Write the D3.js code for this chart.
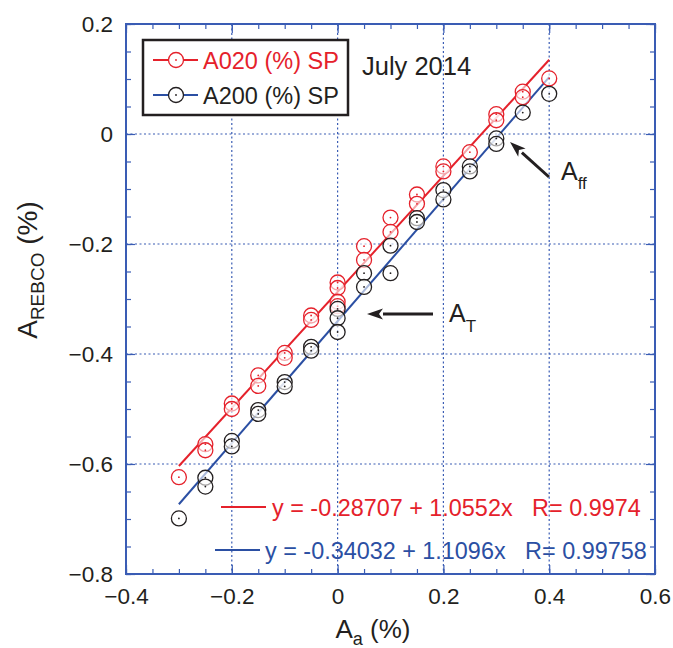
<!DOCTYPE html>
<html>
<head>
<meta charset="utf-8">
<script src="https://cdn.jsdelivr.net/npm/d3@7"></script>
<style>
body{margin:0;background:#fff;}
svg text{font-family:Arial,"Liberation Sans",sans-serif;white-space:pre;}
</style>
</head>
<body>
<svg width="673" height="648"></svg>
<script>
// 数据
var redX = [-0.3,-0.25,-0.25,-0.2,-0.2,-0.15,-0.15,-0.1,-0.1,-0.05,-0.05,0,0,0,0,0.05,0.05,0.1,0.1,0.15,0.15,0.2,0.2,0.25,0.3,0.3,0.35,0.35,0.4];
var redY = [-0.624,-0.564,-0.575,-0.490,-0.500,-0.439,-0.458,-0.398,-0.407,-0.330,-0.338,-0.270,-0.280,-0.305,-0.313,-0.204,-0.229,-0.152,-0.178,-0.110,-0.127,-0.059,-0.068,-0.033,0.036,0.025,0.077,0.067,0.101];
var blackX = [-0.3,-0.25,-0.25,-0.2,-0.2,-0.15,-0.15,-0.1,-0.1,-0.05,-0.05,0,0,0,0.05,0.05,0.1,0.1,0.15,0.15,0.2,0.2,0.25,0.25,0.3,0.3,0.35,0.4];
var blackY = [-0.699,-0.625,-0.641,-0.558,-0.568,-0.502,-0.509,-0.451,-0.459,-0.387,-0.394,-0.318,-0.335,-0.360,-0.253,-0.278,-0.203,-0.253,-0.153,-0.160,-0.102,-0.119,-0.059,-0.068,-0.008,-0.018,0.039,0.073];
var fitRed = [-0.28707,1.0552];   // 截距, 斜率
var fitBlue = [-0.34032,1.1096];
var fitRange = [-0.3,0.4];
var xTicks = [-0.4,-0.2,0,0.2,0.4,0.6];
var yTicks = [-0.8,-0.6,-0.4,-0.2,0,0.2];
var legendNames = ["A020 (%) SP","A200 (%) SP"];
var fitTexts = ["y = -0.28707 + 1.0552x   R= 0.9974","y = -0.34032 + 1.1096x   R= 0.99758"];

var RED = "#e5212b", BLUE = "#2b4fa3", FRAME = "#3a5cb4", BLK = "#231f20";

var svg = d3.select("svg");
var x = d3.scaleLinear().domain([-0.4,0.6]).range([126,655]);
var y = d3.scaleLinear().domain([-0.8,0.2]).range([574,24]);

var minorX = d3.range(-0.4,0.6001,0.05).map(function(d){return +d.toFixed(2);});
var minorY = d3.range(-0.8,0.2001,0.05).map(function(d){return +d.toFixed(2);});

// 网格线
svg.append("g").selectAll("line").data(xTicks.slice(1,-1)).enter().append("line")
  .attr("x1",function(d){return x(d);}).attr("x2",function(d){return x(d);})
  .attr("y1",y(0.2)).attr("y2",y(-0.8))
  .attr("stroke",FRAME).attr("stroke-width",1.2).attr("stroke-dasharray","2,2.5");
svg.append("g").selectAll("line").data(yTicks.slice(1,-1)).enter().append("line")
  .attr("y1",function(d){return y(d);}).attr("y2",function(d){return y(d);})
  .attr("x1",x(-0.4)).attr("x2",x(0.6))
  .attr("stroke",FRAME).attr("stroke-width",1.2).attr("stroke-dasharray","2,2.5");

// 刻度 (四边朝内)
function tickAxis(gen,tr,vals,size){
  var g = svg.append("g").attr("transform",tr)
    .call(gen.tickValues(vals).tickSize(size).tickFormat(""));
  g.select(".domain").remove();
  g.selectAll("line").attr("stroke",FRAME).attr("stroke-width",1.2);
}
tickAxis(d3.axisBottom(x),"translate(0,574)",minorX,-5);
tickAxis(d3.axisBottom(x),"translate(0,574)",xTicks,-9);
tickAxis(d3.axisTop(x),"translate(0,24)",minorX,-5);
tickAxis(d3.axisTop(x),"translate(0,24)",xTicks,-9);
tickAxis(d3.axisLeft(y),"translate(126,0)",minorY,-5);
tickAxis(d3.axisLeft(y),"translate(126,0)",yTicks,-9);
tickAxis(d3.axisRight(y),"translate(655,0)",minorY,-5);
tickAxis(d3.axisRight(y),"translate(655,0)",yTicks,-9);

// 刻度标签
var fmt = function(d){return d===0?"0":d3.format(".1f")(d);};
var gx = svg.append("g").attr("transform","translate(0,574)")
  .call(d3.axisBottom(x).tickValues(xTicks).tickSize(0).tickPadding(14).tickFormat(fmt));
gx.select(".domain").remove();
gx.selectAll("text").attr("font-size",22.5).attr("fill",BLK).style("font-family","Arial, Liberation Sans");
var gy = svg.append("g").attr("transform","translate(126,0)")
  .call(d3.axisLeft(y).tickValues(yTicks).tickSize(0).tickPadding(13).tickFormat(fmt));
gy.select(".domain").remove();
gy.selectAll("text").attr("font-size",22.5).attr("fill",BLK).style("font-family","Arial, Liberation Sans");

// 边框
svg.append("rect").attr("x",x(-0.4)).attr("y",y(0.2))
  .attr("width",x(0.6)-x(-0.4)).attr("height",y(-0.8)-y(0.2))
  .attr("fill","none").attr("stroke",FRAME).attr("stroke-width",2);

// 拟合直线
var line = d3.line().x(function(d){return x(d[0]);}).y(function(d){return y(d[1]);});
function fitPts(f){return fitRange.map(function(v){return [v,f[0]+f[1]*v];});}
svg.append("path").attr("d",line(fitPts(fitRed))).attr("stroke",RED).attr("stroke-width",2).attr("fill","none");
svg.append("path").attr("d",line(fitPts(fitBlue))).attr("stroke",BLUE).attr("stroke-width",2).attr("fill","none");

// 散点
function drawPts(xs,ys,col){
  var pts = xs.map(function(v,i){return [v,ys[i]];});
  var g = svg.append("g");
  g.selectAll("circle.o").data(pts).enter().append("circle")
    .attr("cx",function(d){return x(d[0]);}).attr("cy",function(d){return y(d[1]);})
    .attr("r",7.5).attr("fill","white").attr("fill-opacity",0.6).attr("stroke",col).attr("stroke-width",1.3);
  g.selectAll("circle.c").data(pts).enter().append("circle")
    .attr("cx",function(d){return x(d[0]);}).attr("cy",function(d){return y(d[1]);})
    .attr("r",0.9).attr("fill",col);
}
drawPts(redX,redY,RED);
drawPts(blackX,blackY,BLK);

// 图例
svg.append("rect").attr("x",143).attr("y",40).attr("width",205).attr("height",75)
  .attr("fill","white").attr("stroke",BLK).attr("stroke-width",2.5);
var legRows = [{y:60,line:RED,pt:RED,txt:RED},{y:95,line:BLUE,pt:BLK,txt:BLK}];
legRows.forEach(function(r,i){
  svg.append("line").attr("x1",153).attr("x2",198).attr("y1",r.y).attr("y2",r.y)
    .attr("stroke",r.line).attr("stroke-width",2);
  svg.append("circle").attr("cx",176).attr("cy",r.y).attr("r",7.5)
    .attr("fill","white").attr("stroke",r.pt).attr("stroke-width",1.3);
  svg.append("circle").attr("cx",176).attr("cy",r.y).attr("r",0.9).attr("fill",r.pt);
  svg.append("text").attr("x",203).attr("y",r.y+8.5).attr("font-size",23.5)
    .attr("fill",r.txt).text(legendNames[i]);
});
svg.append("text").attr("x",362).attr("y",75).attr("font-size",25.5).attr("fill",BLK).text("July 2014");

// 拟合公式
var fitRows = [{y:507,x1:221,x2:266,tx:272,c:RED},{y:550,x1:215,x2:260,tx:265,c:BLUE}];
fitRows.forEach(function(r,i){
  svg.append("line").attr("x1",r.x1).attr("x2",r.x2).attr("y1",r.y).attr("y2",r.y)
    .attr("stroke",r.c).attr("stroke-width",2);
  svg.append("text").attr("x",r.tx).attr("y",r.y+8.5).attr("font-size",23.4)
    .attr("fill",r.c).text(fitTexts[i]);
});

// 箭头
function arrow(x1,y1,x2,y2){
  var a = Math.atan2(y2-y1,x2-x1), L = 16, W = 5.5;
  var bx = x2-L*Math.cos(a), by = y2-L*Math.sin(a);
  svg.append("line").attr("x1",x1).attr("y1",y1).attr("x2",bx).attr("y2",by)
    .attr("stroke",BLK).attr("stroke-width",3);
  var p = [[x2,y2],[bx-W*Math.sin(a),by+W*Math.cos(a)],[bx+4*Math.cos(a),by+4*Math.sin(a)],[bx+W*Math.sin(a),by-W*Math.cos(a)]];
  svg.append("polygon").attr("points",p.join(" ")).attr("fill",BLK);
}
arrow(549,177,510,142);
arrow(433,314,367,314);

// A_ff
var t1 = svg.append("text").attr("x",561).attr("y",180).attr("font-size",25).attr("fill",BLK);
t1.append("tspan").text("A");
t1.append("tspan").attr("font-size",17).attr("dy",9).text("ff");
// A_T
var t2 = svg.append("text").attr("x",449).attr("y",322).attr("font-size",25).attr("fill",BLK);
t2.append("tspan").text("A");
t2.append("tspan").attr("font-size",17).attr("dy",10).text("T");

// 轴标题
var xl = svg.append("text").attr("x",373).attr("y",638).attr("text-anchor","middle")
  .attr("font-size",26).attr("fill",BLK);
xl.append("tspan").text("A");
xl.append("tspan").attr("font-size",18).attr("dy",7).text("a");
xl.append("tspan").attr("dy",-7).text(" (%)");

var yl = svg.append("text").attr("transform","translate(37,270) rotate(-90)").attr("text-anchor","middle")
  .attr("font-size",28).attr("fill",BLK);
yl.append("tspan").text("A");
yl.append("tspan").attr("font-size",19).attr("dy",7).text("REBCO");
yl.append("tspan").attr("dy",-7).text(" (%)");
</script>
</body>
</html>
